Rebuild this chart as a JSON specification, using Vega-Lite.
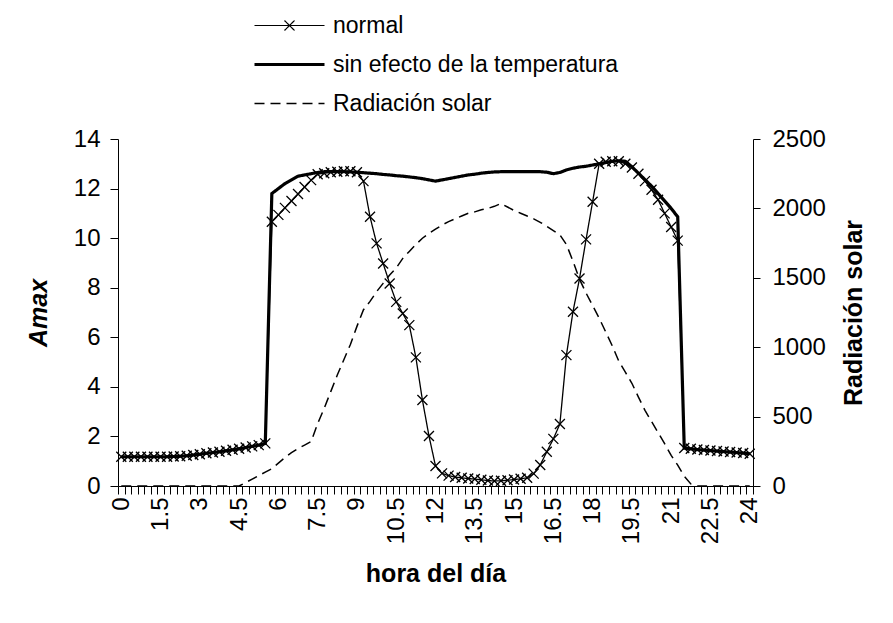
{
  "$schema": "https://vega.github.io/schema/vega-lite/v6.json",
  "width": 635,
  "height": 347,
  "autosize": {"type": "none"},
  "padding": {"left": 118, "top": 139, "right": 140, "bottom": 137},
  "background": "white",
  "config": {
    "font": "Liberation Sans",
    "view": {"stroke": null},
    "axis": {
      "grid": false,
      "domainColor": "black",
      "tickColor": "black",
      "labelColor": "black",
      "titleColor": "black",
      "labelFont": "Liberation Sans",
      "titleFont": "Liberation Sans",
      "labelFontSize": 24,
      "titleFontSize": 25,
      "titleFontWeight": "bold",
      "domainWidth": 1,
      "tickWidth": 1
    },
    "legend": {
      "labelFont": "Liberation Sans",
      "labelColor": "black"
    }
  },
  "data": {
    "values": [
      {"h": 0, "n": 1.18, "s": 1.18, "r": 0},
      {"h": 0.25, "n": 1.18, "s": 1.18, "r": 0},
      {"h": 0.5, "n": 1.18, "s": 1.18, "r": 0},
      {"h": 0.75, "n": 1.18, "s": 1.18, "r": 0},
      {"h": 1, "n": 1.18, "s": 1.18, "r": 0},
      {"h": 1.25, "n": 1.18, "s": 1.18, "r": 0},
      {"h": 1.5, "n": 1.18, "s": 1.18, "r": 0},
      {"h": 1.75, "n": 1.18, "s": 1.18, "r": 0},
      {"h": 2, "n": 1.19, "s": 1.19, "r": 0},
      {"h": 2.25, "n": 1.2, "s": 1.2, "r": 0},
      {"h": 2.5, "n": 1.22, "s": 1.22, "r": 0},
      {"h": 2.75, "n": 1.25, "s": 1.25, "r": 0},
      {"h": 3, "n": 1.28, "s": 1.28, "r": 0},
      {"h": 3.25, "n": 1.32, "s": 1.32, "r": 0},
      {"h": 3.5, "n": 1.35, "s": 1.35, "r": 0},
      {"h": 3.75, "n": 1.38, "s": 1.38, "r": 0},
      {"h": 4, "n": 1.42, "s": 1.42, "r": 0},
      {"h": 4.25, "n": 1.46, "s": 1.46, "r": 0},
      {"h": 4.5, "n": 1.5, "s": 1.5, "r": 0},
      {"h": 4.75, "n": 1.55, "s": 1.55, "r": 25},
      {"h": 5, "n": 1.6, "s": 1.6, "r": 50},
      {"h": 5.25, "n": 1.65, "s": 1.65, "r": 75},
      {"h": 5.5, "n": 1.72, "s": 1.72, "r": 100},
      {"h": 5.75, "n": 10.66, "s": 11.8, "r": 125},
      {"h": 6, "n": 10.94, "s": 12.0, "r": 165},
      {"h": 6.25, "n": 11.22, "s": 12.2, "r": 205},
      {"h": 6.5, "n": 11.5, "s": 12.35, "r": 240},
      {"h": 6.75, "n": 11.78, "s": 12.5, "r": 270},
      {"h": 7, "n": 12.06, "s": 12.55, "r": 295},
      {"h": 7.25, "n": 12.34, "s": 12.6, "r": 320},
      {"h": 7.5, "n": 12.58, "s": 12.65, "r": 450},
      {"h": 7.75, "n": 12.62, "s": 12.68, "r": 560},
      {"h": 8, "n": 12.66, "s": 12.68, "r": 680},
      {"h": 8.25, "n": 12.68, "s": 12.68, "r": 800},
      {"h": 8.5, "n": 12.7, "s": 12.68, "r": 910},
      {"h": 8.75, "n": 12.7, "s": 12.67, "r": 1020},
      {"h": 9, "n": 12.66, "s": 12.66, "r": 1150},
      {"h": 9.25, "n": 12.3, "s": 12.64, "r": 1270},
      {"h": 9.5, "n": 10.86, "s": 12.62, "r": 1330},
      {"h": 9.75, "n": 9.79, "s": 12.6, "r": 1400},
      {"h": 10, "n": 8.98, "s": 12.57, "r": 1460},
      {"h": 10.25, "n": 8.17, "s": 12.55, "r": 1520},
      {"h": 10.5, "n": 7.43, "s": 12.52, "r": 1570},
      {"h": 10.75, "n": 6.96, "s": 12.5, "r": 1640},
      {"h": 11, "n": 6.49, "s": 12.47, "r": 1690},
      {"h": 11.25, "n": 5.19, "s": 12.44, "r": 1740},
      {"h": 11.5, "n": 3.47, "s": 12.4, "r": 1785},
      {"h": 11.75, "n": 2.02, "s": 12.35, "r": 1820},
      {"h": 12, "n": 0.81, "s": 12.3, "r": 1850},
      {"h": 12.25, "n": 0.51, "s": 12.35, "r": 1880},
      {"h": 12.5, "n": 0.42, "s": 12.4, "r": 1905},
      {"h": 12.75, "n": 0.36, "s": 12.45, "r": 1925},
      {"h": 13, "n": 0.33, "s": 12.5, "r": 1945},
      {"h": 13.25, "n": 0.3, "s": 12.55, "r": 1965},
      {"h": 13.5, "n": 0.28, "s": 12.58, "r": 1975},
      {"h": 13.75, "n": 0.25, "s": 12.62, "r": 1990},
      {"h": 14, "n": 0.22, "s": 12.65, "r": 2000},
      {"h": 14.25, "n": 0.2, "s": 12.67, "r": 2015},
      {"h": 14.5, "n": 0.21, "s": 12.68, "r": 2035},
      {"h": 14.75, "n": 0.23, "s": 12.68, "r": 2010},
      {"h": 15, "n": 0.26, "s": 12.68, "r": 1985},
      {"h": 15.25, "n": 0.29, "s": 12.68, "r": 1965},
      {"h": 15.5, "n": 0.33, "s": 12.68, "r": 1945},
      {"h": 15.75, "n": 0.5, "s": 12.68, "r": 1925},
      {"h": 16, "n": 0.85, "s": 12.68, "r": 1900},
      {"h": 16.25, "n": 1.38, "s": 12.66, "r": 1870},
      {"h": 16.5, "n": 1.9, "s": 12.6, "r": 1840},
      {"h": 16.75, "n": 2.5, "s": 12.65, "r": 1810},
      {"h": 17, "n": 5.28, "s": 12.75, "r": 1740},
      {"h": 17.25, "n": 7.03, "s": 12.82, "r": 1620},
      {"h": 17.5, "n": 8.37, "s": 12.87, "r": 1490},
      {"h": 17.75, "n": 9.95, "s": 12.9, "r": 1390},
      {"h": 18, "n": 11.47, "s": 12.95, "r": 1300},
      {"h": 18.25, "n": 13.0, "s": 13.0, "r": 1210},
      {"h": 18.5, "n": 13.08, "s": 13.05, "r": 1110},
      {"h": 18.75, "n": 13.1, "s": 13.1, "r": 1010},
      {"h": 19, "n": 13.1, "s": 13.12, "r": 900},
      {"h": 19.25, "n": 13.0, "s": 13.1, "r": 820},
      {"h": 19.5, "n": 12.85, "s": 12.88, "r": 740},
      {"h": 19.75, "n": 12.6, "s": 12.62, "r": 640},
      {"h": 20, "n": 12.3, "s": 12.36, "r": 545},
      {"h": 20.25, "n": 11.95, "s": 12.1, "r": 465},
      {"h": 20.5, "n": 11.55, "s": 11.8, "r": 385},
      {"h": 20.75, "n": 11.0, "s": 11.5, "r": 305},
      {"h": 21, "n": 10.45, "s": 11.2, "r": 220},
      {"h": 21.25, "n": 9.9, "s": 10.86, "r": 150},
      {"h": 21.5, "n": 1.53, "s": 1.53, "r": 70},
      {"h": 21.75, "n": 1.5, "s": 1.5, "r": 15},
      {"h": 22, "n": 1.47, "s": 1.47, "r": 0},
      {"h": 22.25, "n": 1.45, "s": 1.45, "r": 0},
      {"h": 22.5, "n": 1.43, "s": 1.43, "r": 0},
      {"h": 22.75, "n": 1.41, "s": 1.41, "r": 0},
      {"h": 23, "n": 1.39, "s": 1.39, "r": 0},
      {"h": 23.25, "n": 1.37, "s": 1.37, "r": 0},
      {"h": 23.5, "n": 1.35, "s": 1.35, "r": 0},
      {"h": 23.75, "n": 1.33, "s": 1.33, "r": 0},
      {"h": 24, "n": 1.3, "s": 1.3, "r": 0}
    ]
  },
  "transform": [{"fold": ["n", "s", "r"], "as": ["series", "value"]}],
  "encoding": {
    "x": {
      "field": "h",
      "type": "quantitative",
      "scale": {"domain": [-0.125, 24.125], "nice": false, "zero": false},
      "axis": {
        "title": "hora del día",
        "values": [-0.125, 0.125, 0.375, 0.625, 0.875, 1.125, 1.375, 1.625, 1.875, 2.125, 2.375, 2.625, 2.875, 3.125, 3.375, 3.625, 3.875, 4.125, 4.375, 4.625, 4.875, 5.125, 5.375, 5.625, 5.875, 6.125, 6.375, 6.625, 6.875, 7.125, 7.375, 7.625, 7.875, 8.125, 8.375, 8.625, 8.875, 9.125, 9.375, 9.625, 9.875, 10.125, 10.375, 10.625, 10.875, 11.125, 11.375, 11.625, 11.875, 12.125, 12.375, 12.625, 12.875, 13.125, 13.375, 13.625, 13.875, 14.125, 14.375, 14.625, 14.875, 15.125, 15.375, 15.625, 15.875, 16.125, 16.375, 16.625, 16.875, 17.125, 17.375, 17.625, 17.875, 18.125, 18.375, 18.625, 18.875, 19.125, 19.375, 19.625, 19.875, 20.125, 20.375, 20.625, 20.875, 21.125, 21.375, 21.625, 21.875, 22.125, 22.375, 22.625, 22.875, 23.125, 23.375, 23.625, 23.875, 24.125],
        "labelExpr": "(datum.value + 0.125) % 1.5 === 0 ? '' + (datum.value + 0.125) : ''",
        "labelAngle": 270,
        "labelOffset": 3.27,
        "labelOverlap": false,
        "labelFlush": false,
        "labelBound": false,
        "tickSize": 8,
        "labelPadding": 3,
        "titlePadding": 18
      }
    }
  },
  "layer": [
    {
      "encoding": {
        "y": {
          "field": "value",
          "type": "quantitative",
          "scale": {"domain": [0, 14], "nice": false},
          "axis": {
            "title": "Amax",
            "titleFontStyle": "italic",
            "values": [0, 2, 4, 6, 8, 10, 12, 14],
            "tickSize": 8,
            "labelPadding": 10,
            "titlePadding": 22
          }
        }
      },
      "layer": [
        {
          "transform": [{"filter": "datum.series === 's'"}],
          "mark": {"type": "line", "color": "black", "strokeWidth": 3.2, "strokeJoin": "miter"},
          "encoding": {
            "strokeDash": {
              "field": "series",
              "type": "nominal",
              "scale": {"domain": ["n", "s", "r"], "range": [[1, 0], [1, 0], [10, 6]]},
              "legend": {
                "title": null,
                "orient": "none",
                "legendX": 160,
                "legendY": -125,
                "padding": 0,
                "rowPadding": 15,
                "symbolType": "M-7,0H7",
                "symbolSize": 100,
                "symbolStrokeColor": "black",
                "labelFontSize": 23,
                "labelOffset": 32,
                "labelLimit": 0,
                "labelExpr": "datum.value === 'n' ? 'normal' : datum.value === 's' ? 'sin efecto de la temperatura' : 'Radiación solar'",
                "encode": {
                  "symbols": {
                    "update": {
                      "shape": {"signal": "datum.value === 'n' ? 'M-7,0H7M-1,-1L1,1M-1,1L1,-1' : 'M-7,0H7'"},
                      "strokeWidth": {"signal": "datum.value === 's' ? 3.2 : datum.value === 'n' ? 1.2 : 1.5"},
                      "stroke": {"value": "black"}
                    }
                  }
                }
              }
            }
          }
        },
        {
          "transform": [{"filter": "datum.series === 'n'"}],
          "mark": {"type": "line", "color": "black", "strokeWidth": 1.3},
          "encoding": {
            "strokeDash": {"field": "series", "type": "nominal"}
          }
        },
        {
          "transform": [{"filter": "datum.series === 'n'"}],
          "mark": {"type": "point", "shape": "M-1,-1L1,1M-1,1L1,-1", "filled": false, "stroke": "black", "strokeWidth": 1.3, "size": 100, "opacity": 1}
        }
      ]
    },
    {
      "transform": [{"filter": "datum.series === 'r'"}],
      "mark": {"type": "line", "color": "black", "strokeWidth": 1.5},
      "encoding": {
        "y": {
          "field": "value",
          "type": "quantitative",
          "scale": {"domain": [0, 2500], "nice": false},
          "axis": {
            "orient": "right",
            "title": "Radiación solar",
            "titleAngle": 270,
            "titleBaseline": "top",
            "format": "d",
            "values": [0, 500, 1000, 1500, 2000, 2500],
            "tickSize": 7,
            "labelPadding": 12,
            "titlePadding": 16
          }
        },
        "strokeDash": {"field": "series", "type": "nominal"}
      }
    }
  ],
  "resolve": {"scale": {"y": "independent"}}
}
